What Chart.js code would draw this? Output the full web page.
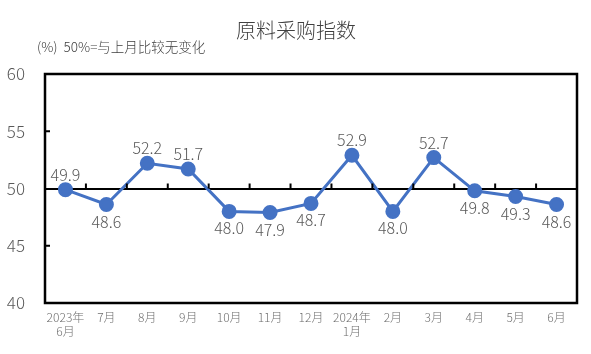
<!DOCTYPE html>
<html><head><meta charset="utf-8">
<script src="https://cdn.jsdelivr.net/npm/chart.js@4/dist/chart.umd.min.js"></script>
<style>html,body{margin:0;padding:0;background:#fff}#wrap{width:591px;height:354px}</style>
</head><body><div id="wrap"><canvas id="c" width="591" height="354"></canvas></div>
<script>
const categories = [["2023年","6月"],"7月","8月","9月","10月","11月","12月",["2024年","1月"],"2月","3月","4月","5月","6月"];
const values = [49.9,48.6,52.2,51.7,48.0,47.9,48.7,52.9,48.0,52.7,49.8,49.3,48.6];
const labelAbove = [true,false,true,true,false,false,false,true,false,true,false,false,false];
const yTicks = [40,45,50,55,60];
const title = "原料采购指数";
const subtitle = "(%)  50%=与上月比较无变化";
const FONT = '"Noto Sans CJK SC", "Liberation Sans", sans-serif';

const deco = {
  id:'deco',
  afterDatasetsDraw(chart){
    const {ctx, chartArea:a, scales:{x,y}} = chart;
    ctx.save();
    const y50 = y.getPixelForValue(50);
    ctx.strokeStyle='#000'; ctx.lineWidth=2;
    for(let i=1;i<categories.length;i++){
      const px = (x.getPixelForValue(i-1)+x.getPixelForValue(i))/2;
      ctx.beginPath(); ctx.moveTo(px,y50); ctx.lineTo(px,y50-5); ctx.stroke();
    }
    [45,55].forEach(v=>{const py=y.getPixelForValue(v);ctx.beginPath();ctx.moveTo(a.left,py);ctx.lineTo(a.left+5,py);ctx.stroke();});
    ctx.lineWidth=2.5;
    ctx.strokeRect(a.left,a.top,a.right-a.left,a.bottom-a.top);
    const meta = chart.getDatasetMeta(0);
    ctx.fillStyle='#595959'; ctx.font='300 16px '+FONT; ctx.textAlign='center'; ctx.textBaseline='middle';
    meta.data.forEach((pt,i)=>{
      const dy = labelAbove[i] ? -15 : 17;
      ctx.fillText(values[i].toFixed(1), pt.x, pt.y+dy);
    });
    ctx.fillStyle='#404040'; ctx.font='300 20px '+FONT; ctx.textAlign='center';
    ctx.fillText(title, 296, 30);
    ctx.fillStyle='#404040'; ctx.font='300 13.5px '+FONT; ctx.textAlign='left';
    ctx.fillText(subtitle, 37, 47);
    ctx.restore();
  }
};

new Chart(document.getElementById('c'), {
  type:'line',
  data:{labels:categories, datasets:[{data:values, borderColor:'#4472C4', backgroundColor:'#4472C4', borderWidth:3, pointRadius:6, pointHoverRadius:6, pointBackgroundColor:'#4472C4', pointBorderColor:'#4472C4', tension:0}]},
  options:{
    responsive:false, animation:false, devicePixelRatio:1,
    layout:{padding:{top:74,right:14,left:0,bottom:0}},
    plugins:{legend:{display:false}, tooltip:{enabled:false}},
    scales:{
      x:{offset:true, grid:{display:false, drawTicks:false}, border:{display:false},
         ticks:{color:'#6e6e6e', font:{family:FONT,size:12,weight:300}, padding:7, maxRotation:0, autoSkip:false},
         afterFit(s){s.height=51;}},
      y:{min:40,max:60, afterBuildTicks(s){s.ticks=yTicks.map(v=>({value:v}));},
         grid:{drawTicks:false, color(c){return c.tick && c.tick.value===50 ? '#000':'rgba(0,0,0,0)';}, lineWidth(c){return c.tick && c.tick.value===50?2:0;}},
         border:{display:false},
         ticks:{color:'#595959', font:{family:FONT,size:17,weight:300}, padding:20},
         afterFit(s){s.width=45;}}
    }
  },
  plugins:[deco]
});
</script></body></html>
